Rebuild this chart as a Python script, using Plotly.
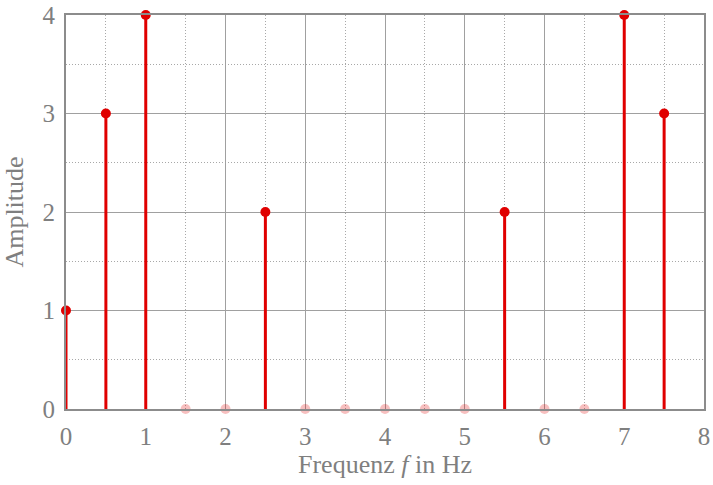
import plotly.graph_objects as go

freq = [0, 0.5, 1, 1.5, 2, 2.5, 3, 3.5, 4, 4.5, 5, 5.5, 6, 6.5, 7, 7.5]
amplitude = [1, 3, 4, 0, 0, 2, 0, 0, 0, 0, 0, 2, 0, 0, 4, 3]
x_ticks = [0, 1, 2, 3, 4, 5, 6, 7, 8]
y_ticks = [0, 1, 2, 3, 4]

RED = "#e00000"
FONT = "Liberation Serif"
GREY = "#7f7f7f"

nz_x = [f for f, a in zip(freq, amplitude) if a != 0]
nz_y = [a for a in amplitude if a != 0]
z_x = [f for f, a in zip(freq, amplitude) if a == 0]
z_y = [a for a in amplitude if a == 0]

sx, sy = [], []
for f, a in zip(nz_x, nz_y):
    sx += [f, f, None]
    sy += [0, a, None]

fig = go.Figure()
fig.add_trace(go.Scatter(x=sx, y=sy, mode="lines", line=dict(color=RED, width=3),
                         hoverinfo="skip", showlegend=False, cliponaxis=False))
fig.add_trace(go.Scatter(x=z_x, y=z_y, mode="markers",
                         marker=dict(color="rgba(224,0,0,0.25)", size=10),
                         showlegend=False, cliponaxis=False))
fig.add_trace(go.Scatter(x=nz_x, y=nz_y, mode="markers",
                         marker=dict(color=RED, size=10),
                         showlegend=False, cliponaxis=False))

axis_common = dict(
    showline=True, linecolor="#8c8c8c", linewidth=2, mirror=True,
    showgrid=True, gridcolor="#a0a0a0", gridwidth=1,
    zeroline=False, ticks="", automargin=False,
    tickfont=dict(family=FONT, size=25, color=GREY),
    minor=dict(showgrid=True, gridcolor="#a8a8a8", griddash="1px,2px", gridwidth=1, dtick=0.5),
)

fig.update_layout(
    width=713, height=485,
    margin=dict(l=66, r=9, t=15, b=76),
    paper_bgcolor="white", plot_bgcolor="white",
    xaxis=dict(range=[0, 8], tickvals=x_ticks, ticktext=[str(v) for v in x_ticks],
               ticklabelstandoff=4,
               title=dict(text="Frequenz <i>f</i> in Hz", font=dict(family=FONT, size=26, color=GREY),
                          standoff=5),
               **axis_common),
    yaxis=dict(range=[0, 4], tickvals=y_ticks, ticktext=[str(v) for v in y_ticks],
               ticklabelstandoff=4,
               title=dict(text="Amplitude", font=dict(family=FONT, size=26, color=GREY), standoff=13),
               **axis_common),
)

fig.write_html("out.html", config={"displayModeBar": False},
               post_script="document.body.style.margin='0';document.body.style.overflow='hidden';")
